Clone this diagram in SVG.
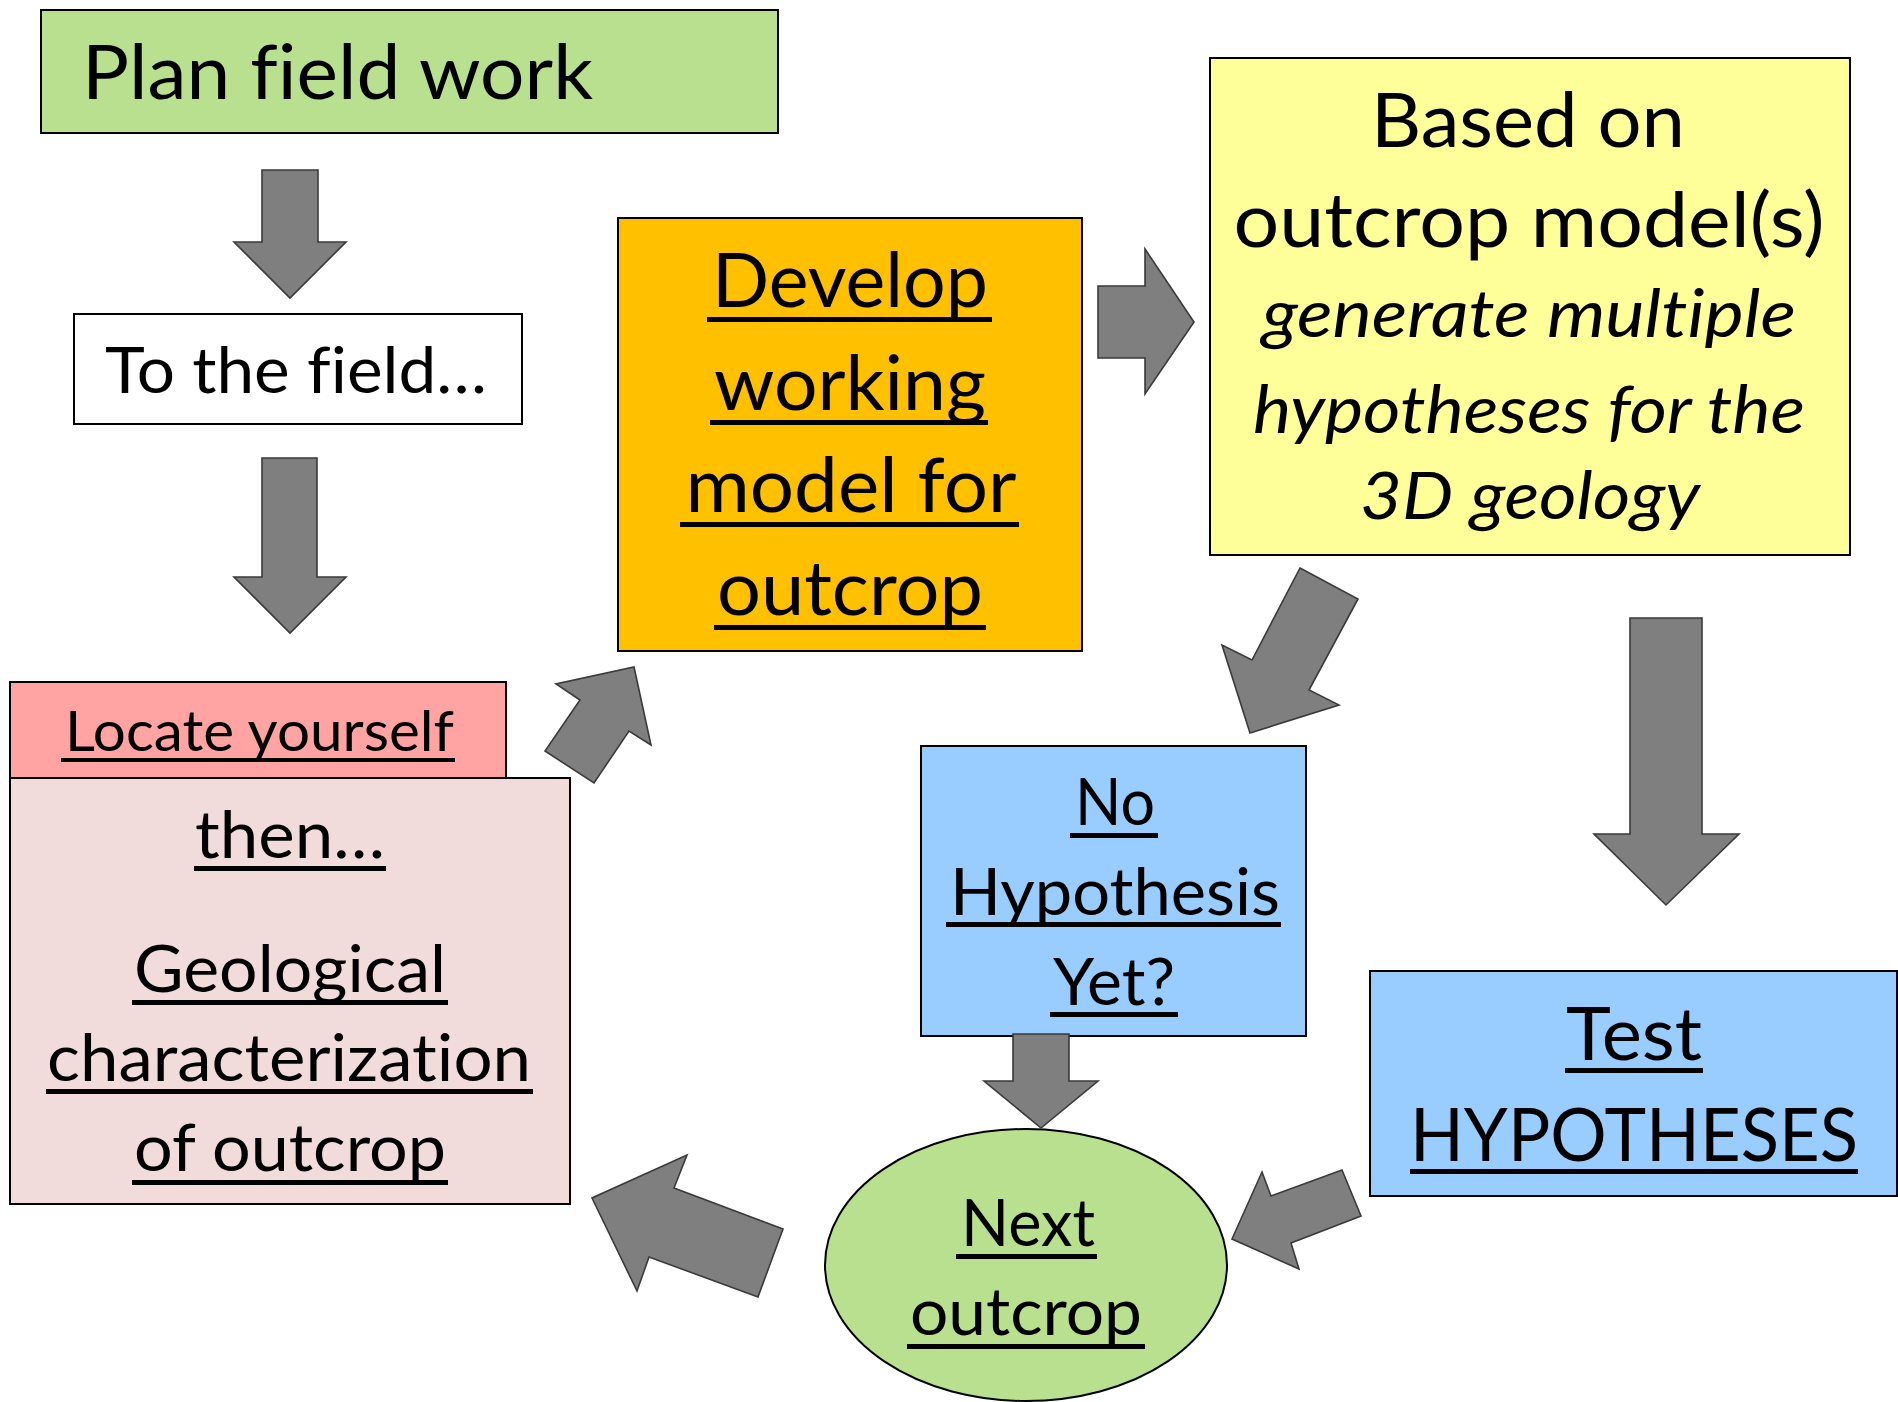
<svg xmlns="http://www.w3.org/2000/svg" width="1898" height="1402" viewBox="0 0 1898 1402">
<style>
.box{stroke:#000;stroke-width:2}
.t{font-family:Lato,"Liberation Sans",sans-serif;fill:#000;font-variant-ligatures:none}
.i{font-style:italic}
.m{text-anchor:middle}
.ul{fill:#000}
.arr{fill:#7f7f7f;stroke:#3a3a3a;stroke-width:1.6;stroke-linejoin:miter}
</style>
<rect width="1898" height="1402" fill="#fff"/>
<g id="plan">
<rect class="box" x="41" y="10" width="737" height="123" fill="#b9e08e"/>
<text class="t" x="82" y="99" font-size="76" textLength="511" lengthAdjust="spacingAndGlyphs">Plan field work</text>
</g>
<g id="field">
<rect class="box" x="74" y="314" width="448" height="110" fill="#fff"/>
<text class="t" x="105" y="393" font-size="64" textLength="382" lengthAdjust="spacingAndGlyphs">To the field…</text>
</g>
<g id="characterize">
<rect class="box" x="10" y="778" width="560" height="426" fill="#f2dcdb"/>
<text class="t m" x="290" y="858" font-size="66" textLength="190" lengthAdjust="spacingAndGlyphs">then…</text>
<rect class="ul" x="194" y="866" width="192" height="5"/>
<text class="t m" x="290" y="992" font-size="66" textLength="312" lengthAdjust="spacingAndGlyphs">Geological</text>
<rect class="ul" x="132" y="1000" width="316" height="5"/>
<text class="t m" x="289" y="1081" font-size="66" textLength="484" lengthAdjust="spacingAndGlyphs">characterization</text>
<rect class="ul" x="46" y="1089" width="487" height="5"/>
<text class="t m" x="290" y="1171" font-size="66" textLength="312" lengthAdjust="spacingAndGlyphs">of outcrop</text>
<rect class="ul" x="132" y="1180" width="316" height="5"/>
</g>
<g id="locate">
<rect class="box" x="10" y="682" width="496" height="96" fill="#ffa3a3"/>
<text class="t m" x="259.5" y="751" font-size="56" textLength="389" lengthAdjust="spacingAndGlyphs">Locate yourself</text>
<rect class="ul" x="61" y="758" width="394" height="4"/>
</g>
<g id="develop">
<rect class="box" x="618" y="218" width="464" height="433" fill="#ffc000"/>
<text class="t m" x="850" y="307" font-size="75" textLength="276" lengthAdjust="spacingAndGlyphs">Develop</text>
<rect class="ul" x="707" y="317" width="285" height="5"/>
<text class="t m" x="850" y="410" font-size="75" textLength="272" lengthAdjust="spacingAndGlyphs">working</text>
<rect class="ul" x="710" y="420" width="278" height="5"/>
<text class="t m" x="851" y="512" font-size="75" textLength="331" lengthAdjust="spacingAndGlyphs">model for</text>
<rect class="ul" x="680" y="522" width="339" height="5"/>
<text class="t m" x="850" y="615" font-size="75" textLength="266" lengthAdjust="spacingAndGlyphs">outcrop</text>
<rect class="ul" x="714" y="625" width="272" height="5"/>
</g>
<g id="hypotheses">
<rect class="box" x="1210" y="58" width="640" height="497" fill="#ffff99"/>
<text class="t m" x="1528" y="147" font-size="76" textLength="314" lengthAdjust="spacingAndGlyphs">Based on</text>
<text class="t m" x="1529" y="247" font-size="76" textLength="591" lengthAdjust="spacingAndGlyphs">outcrop model(s)</text>
<text class="t m i" x="1529" y="337" font-size="66" textLength="534" lengthAdjust="spacingAndGlyphs">generate multiple</text>
<text class="t m i" x="1529" y="433" font-size="66" textLength="552" lengthAdjust="spacingAndGlyphs">hypotheses for the</text>
<text class="t m i" x="1530" y="519" font-size="66" textLength="340" lengthAdjust="spacingAndGlyphs">3D geology</text>
</g>
<g id="nohypothesis">
<rect class="box" x="921" y="746" width="385" height="290" fill="#99ccff"/>
<text class="t m" x="1115" y="825" font-size="66" textLength="80" lengthAdjust="spacingAndGlyphs">No</text>
<rect class="ul" x="1070" y="833" width="88" height="5"/>
<text class="t m" x="1115" y="915" font-size="66" textLength="330" lengthAdjust="spacingAndGlyphs">Hypothesis</text>
<rect class="ul" x="946" y="922" width="335" height="5"/>
<text class="t m" x="1114" y="1005" font-size="66" textLength="122" lengthAdjust="spacingAndGlyphs">Yet?</text>
<rect class="ul" x="1050" y="1012" width="128" height="5"/>
</g>
<g id="test">
<rect class="box" x="1370" y="971" width="527" height="225" fill="#99ccff"/>
<text class="t m" x="1634" y="1060" font-size="74" textLength="136" lengthAdjust="spacingAndGlyphs">Test</text>
<rect class="ul" x="1565" y="1068" width="138" height="5"/>
<text class="t m" x="1634" y="1161" font-size="74" textLength="448" lengthAdjust="spacingAndGlyphs">HYPOTHESES</text>
<rect class="ul" x="1410" y="1169" width="448" height="5"/>
</g>
<g id="next">
<ellipse class="box" cx="1026" cy="1265" rx="201" ry="136" fill="#b9e08e"/>
<text class="t m" x="1028" y="1246" font-size="65" textLength="134" lengthAdjust="spacingAndGlyphs">Next</text>
<rect class="ul" x="956" y="1254" width="141" height="5"/>
<text class="t m" x="1026" y="1335" font-size="65" textLength="232" lengthAdjust="spacingAndGlyphs">outcrop</text>
<rect class="ul" x="907" y="1344" width="238" height="5"/>
</g>
<g id="connectors">
<polygon class="arr" points="262,170 318,170 318,242 346,242 290,298 234,242 262,242"/>
<polygon class="arr" points="262,458 317,458 317,577 346,577 290,633 234,577 262,577"/>
<polygon class="arr" points="634,667 651,745 629,731 594,783 545,751 580,700 556,684"/>
<polygon class="arr" points="1098,286 1145,286 1145,249 1194,322 1145,394 1145,358 1098,358"/>
<polygon class="arr" points="1300,568 1358,599 1309,690 1339,705 1250,733 1222,645 1252,660"/>
<polygon class="arr" points="1630,618 1702,618 1702,834 1739,834 1666,905 1594,834 1630,834"/>
<polygon class="arr" points="1013,1034 1069,1034 1069,1081 1098,1081 1041,1128 984,1081 1013,1081"/>
<polygon class="arr" points="1342,1170 1361,1216 1291,1243 1299,1269 1232,1239 1262,1172 1271,1196"/>
<polygon class="arr" points="783,1229 758,1297 649,1257 637,1291 592,1198 687,1155 674,1188"/>
</g>
</svg>
